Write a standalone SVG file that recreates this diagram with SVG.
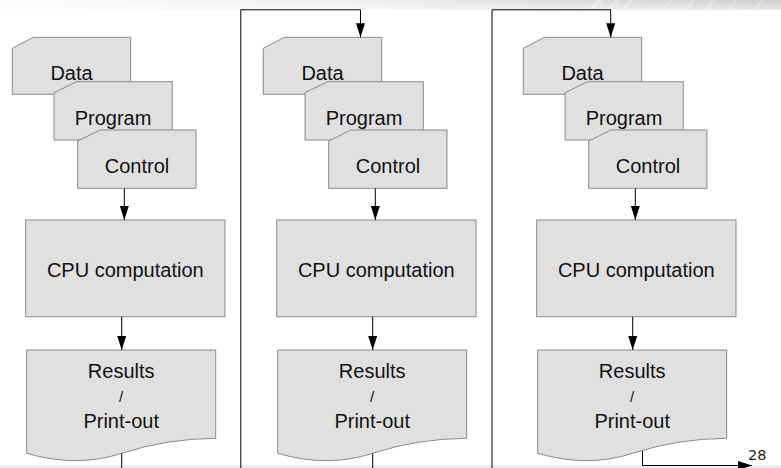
<svg xmlns="http://www.w3.org/2000/svg" width="781" height="468" viewBox="0 0 781 468">
  <defs>
    <style>
      .card { fill: #e0e0e0; stroke: #8a8a8a; stroke-width: 1; }
      .lbl { font-family: "Liberation Sans", Arial, sans-serif; font-size: 20px; fill: #111; text-anchor: middle; }
      .slash { font-family: "Liberation Sans", Arial, sans-serif; font-size: 15px; fill: #111; text-anchor: middle; }
      .wire { fill: none; stroke: #000; stroke-width: 1; }
      .pageno { font-family: "DejaVu Sans", Verdana, sans-serif; font-size: 14.5px; fill: #222; }
    </style>
    <marker id="arrow" viewBox="0 0 14 9" refX="14" refY="4.5" markerWidth="14" markerHeight="9" orient="auto" markerUnits="userSpaceOnUse">
      <path d="M0,0 L14,4.5 L0,9 Z" fill="#000"/>
    </marker>
    <linearGradient id="topband" x1="0" y1="0" x2="1" y2="0">
      <stop offset="0" stop-color="#fbfbfb"/>
      <stop offset="0.45" stop-color="#f0f0f0"/>
      <stop offset="0.75" stop-color="#dcdcdc"/>
      <stop offset="1" stop-color="#cdcdcd"/>
    </linearGradient>
    <linearGradient id="topfade" x1="0" y1="0" x2="0" y2="1">
      <stop offset="0" stop-color="#fff" stop-opacity="0"/>
      <stop offset="1" stop-color="#fff" stop-opacity="0.5"/>
    </linearGradient>
  </defs>

  <rect width="781" height="468" fill="#fff"/>

  <!-- header strip with diagonal streaks -->
  <g id="header">
    <rect x="0" y="0" width="781" height="9.5" fill="url(#topband)"/>
    <g fill="#fff" opacity="0.35">
      <polygon points="588,9.5 597,0 603,0 594,9.5"/>
      <polygon points="606,9.5 615,0 619,0 610,9.5"/>
      <polygon points="621,9.5 630,0 634,0 625,9.5"/>
      <polygon points="661,9.5 670,0 672,0 663,9.5"/>
      <polygon points="684,9.5 693,0 695,0 686,9.5"/>
      <polygon points="704,9.5 713,0 715,0 706,9.5"/>
      <polygon points="727,9.5 736,0 738,0 729,9.5"/>
      <polygon points="753,9.5 762,0 764,0 755,9.5"/>
    </g>
    <rect x="0" y="0" width="781" height="9.5" fill="url(#topfade)"/>
  </g>

  <!-- footer strip -->
  <rect id="footer" x="0" y="465" width="781" height="3" fill="#eeeeee"/>

  <!-- column 1 -->
  <g id="data-1"><path class="card" d="M12.3,48.3 L33.3,37.3 H130.7 V94.3 H12.3 Z"/><text class="lbl" x="71.5" y="80">Data</text></g>
  <g id="program-1"><path class="card" d="M54,92.7 L76.7,81.7 H172.3 V140 H54 Z"/><text class="lbl" x="113" y="124.5">Program</text></g>
  <g id="control-1"><path class="card" d="M77.7,141 L100,130 H196 V188.3 H77.7 Z"/><text class="lbl" x="137" y="172.7">Control</text></g>
  <g id="cpu-1"><rect class="card" x="25.7" y="220" width="199.3" height="96.7"/><text class="lbl" x="125.3" y="277.3">CPU computation</text></g>
  <g id="results-1"><path class="card" d="M26.7,350 H215.7 V438.3 Q166.7,438.6 121.7,453.3 Q76.7,468 26.7,453.3 Z"/>
    <text class="lbl" x="121.2" y="378.3">Results</text><text class="slash" x="121.2" y="402">/</text><text class="lbl" x="121.2" y="427.7">Print-out</text></g>

  <!-- column 2 -->
  <g id="data-2" transform="translate(251,0)"><path class="card" d="M12.3,48.3 L33.3,37.3 H130.7 V94.3 H12.3 Z"/><text class="lbl" x="71.5" y="80">Data</text></g>
  <g id="program-2" transform="translate(251,0)"><path class="card" d="M54,92.7 L76.7,81.7 H172.3 V140 H54 Z"/><text class="lbl" x="113" y="124.5">Program</text></g>
  <g id="control-2" transform="translate(251,0)"><path class="card" d="M77.7,141 L100,130 H196 V188.3 H77.7 Z"/><text class="lbl" x="137" y="172.7">Control</text></g>
  <g id="cpu-2" transform="translate(251,0)"><rect class="card" x="25.7" y="220" width="199.3" height="96.7"/><text class="lbl" x="125.3" y="277.3">CPU computation</text></g>
  <g id="results-2" transform="translate(251,0)"><path class="card" d="M26.7,350 H215.7 V438.3 Q166.7,438.6 121.7,453.3 Q76.7,468 26.7,453.3 Z"/>
    <text class="lbl" x="121.2" y="378.3">Results</text><text class="slash" x="121.2" y="402">/</text><text class="lbl" x="121.2" y="427.7">Print-out</text></g>

  <!-- column 3 -->
  <g id="data-3" transform="translate(511,0)"><path class="card" d="M12.3,48.3 L33.3,37.3 H130.7 V94.3 H12.3 Z"/><text class="lbl" x="71.5" y="80">Data</text></g>
  <g id="program-3" transform="translate(511,0)"><path class="card" d="M54,92.7 L76.7,81.7 H172.3 V140 H54 Z"/><text class="lbl" x="113" y="124.5">Program</text></g>
  <g id="control-3" transform="translate(511,0)"><path class="card" d="M77.7,141 L100,130 H196 V188.3 H77.7 Z"/><text class="lbl" x="137" y="172.7">Control</text></g>
  <g id="cpu-3" transform="translate(511,0)"><rect class="card" x="25.7" y="220" width="199.3" height="96.7"/><text class="lbl" x="125.3" y="277.3">CPU computation</text></g>
  <g id="results-3" transform="translate(511,0)"><path class="card" d="M26.7,350 H215.7 V438.3 Q166.7,438.6 121.7,453.3 Q76.7,468 26.7,453.3 Z"/>
    <text class="lbl" x="121.2" y="378.3">Results</text><text class="slash" x="121.2" y="402">/</text><text class="lbl" x="121.2" y="427.7">Print-out</text></g>

  <!-- connectors -->
  <g id="connectors">
    <path class="wire" d="M124.3,188.3 V220" marker-end="url(#arrow)"/>
    <path class="wire" d="M121.7,316.7 V350" marker-end="url(#arrow)"/>
    <path class="wire" d="M121.7,453.3 V468"/>

    <path class="wire" d="M240.8,468 V9.8 H360.5 V37.3" marker-end="url(#arrow)"/>
    <path class="wire" d="M375.3,188.3 V220" marker-end="url(#arrow)"/>
    <path class="wire" d="M372.7,316.7 V350" marker-end="url(#arrow)"/>
    <path class="wire" d="M372.7,453.3 V468"/>

    <path class="wire" d="M492,468 V9.8 H610.7 V37.3" marker-end="url(#arrow)"/>
    <path class="wire" d="M635.3,188.3 V220" marker-end="url(#arrow)"/>
    <path class="wire" d="M632.7,316.7 V350" marker-end="url(#arrow)"/>
    <path class="wire" d="M642.5,451 V465.5 H752" marker-end="url(#arrow)"/>
  </g>

  <text class="pageno" x="748" y="459.5">28</text>
</svg>
